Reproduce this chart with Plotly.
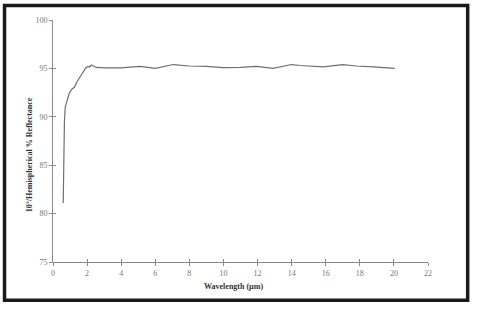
import plotly.graph_objects as go

wavelength = [0.6, 0.63, 0.67, 0.72, 0.8, 0.95, 1.1, 1.25, 1.4, 1.6, 1.75, 1.9, 2.05, 2.15, 2.25, 2.35,
              2.55, 3.0, 4.0, 5.1, 6.0, 7.05, 8.0, 9.0, 10.0, 11.0, 11.95, 12.9, 14.0, 14.5, 15.85,
              17.0, 17.8, 18.8, 20.05]
reflectance = [81.1, 86.0, 89.5, 91.0, 91.6, 92.4, 92.85, 93.05, 93.6, 94.15, 94.5, 95.0, 95.2, 95.15,
               95.35, 95.25, 95.1, 95.05, 95.05, 95.2, 95.0, 95.4, 95.25, 95.2, 95.07, 95.1, 95.2, 95.0,
               95.4, 95.3, 95.15, 95.4, 95.25, 95.15, 95.0]

x_ticks = [0, 2, 4, 6, 8, 10, 12, 14, 16, 18, 20, 22]
y_ticks = [75, 80, 85, 90, 95, 100]
x_title = "Wavelength (µm)"
y_title = "10°/Hemispherical % Reflectance"

W, H = 477, 313
L, R, T, B = 53, 48.7, 20, 50.7
pw, ph = W - L - R, H - T - B

def px(x):
    return (x - L) / pw

def py(y):
    return (H - B - y) / ph

serif = "Liberation Serif, DejaVu Serif, serif"
axis_col = "#8a8a8a"

fig = go.Figure()
fig.add_trace(go.Scatter(x=wavelength, y=reflectance, mode="lines",
                         line=dict(color="#6f6f6f", width=1.2), hoverinfo="skip"))
# invisible trace on overlay axes for crossing ticks
fig.add_trace(go.Scatter(x=[0, 22], y=[75, 100], xaxis="x2", yaxis="y2", mode="lines",
                         line=dict(color="rgba(0,0,0,0)"), hoverinfo="skip"))

fig.update_layout(
    width=W, height=H,
    margin=dict(l=L, r=R, t=T, b=B),
    paper_bgcolor="white", plot_bgcolor="white",
    showlegend=False,
    font=dict(family=serif, color="#777777", size=8),
    xaxis=dict(range=[0, 22], tickvals=x_ticks, ticks="outside", ticklen=3, tickcolor=axis_col,
               tickwidth=1, showline=True, linecolor=axis_col, linewidth=1, showgrid=False,
               zeroline=False, tickfont=dict(size=8, color="#777777", family=serif)),
    yaxis=dict(range=[75, 100], tickvals=y_ticks, ticks="outside", ticklen=3, tickcolor=axis_col,
               tickwidth=1, showline=True, linecolor=axis_col, linewidth=1, showgrid=False,
               zeroline=False, tickfont=dict(size=8, color="#777777", family=serif)),
    xaxis2=dict(range=[0, 22], tickvals=x_ticks, ticks="inside", ticklen=3, tickcolor=axis_col,
                overlaying="x", showticklabels=False, showgrid=False, zeroline=False, showline=False),
    yaxis2=dict(range=[75, 100], tickvals=y_ticks, ticks="inside", ticklen=3, tickcolor=axis_col,
                overlaying="y", showticklabels=False, showgrid=False, zeroline=False, showline=False),
    shapes=[dict(type="rect", xref="paper", yref="paper",
                 x0=px(4.5), x1=px(468), y0=py(300.5), y1=py(5.5),
                 line=dict(color="#1a1a1a", width=3.5))],
    annotations=[
        dict(text="<b>" + x_title + "</b>", xref="paper", yref="paper", x=px(234), y=py(286.7),
             showarrow=False, font=dict(size=8, color="#333333", family=serif),
             xanchor="center", yanchor="middle"),
        dict(text="<b>" + y_title + "</b>", xref="paper", yref="paper", x=px(29.5), y=py(155),
             showarrow=False, textangle=-90, font=dict(size=8, color="#333333", family=serif),
             xanchor="center", yanchor="middle"),
    ],
)

fig.write_html("out.html", config={"displayModeBar": False},
               post_script="document.body.style.margin='0';document.body.style.overflow='hidden';")
